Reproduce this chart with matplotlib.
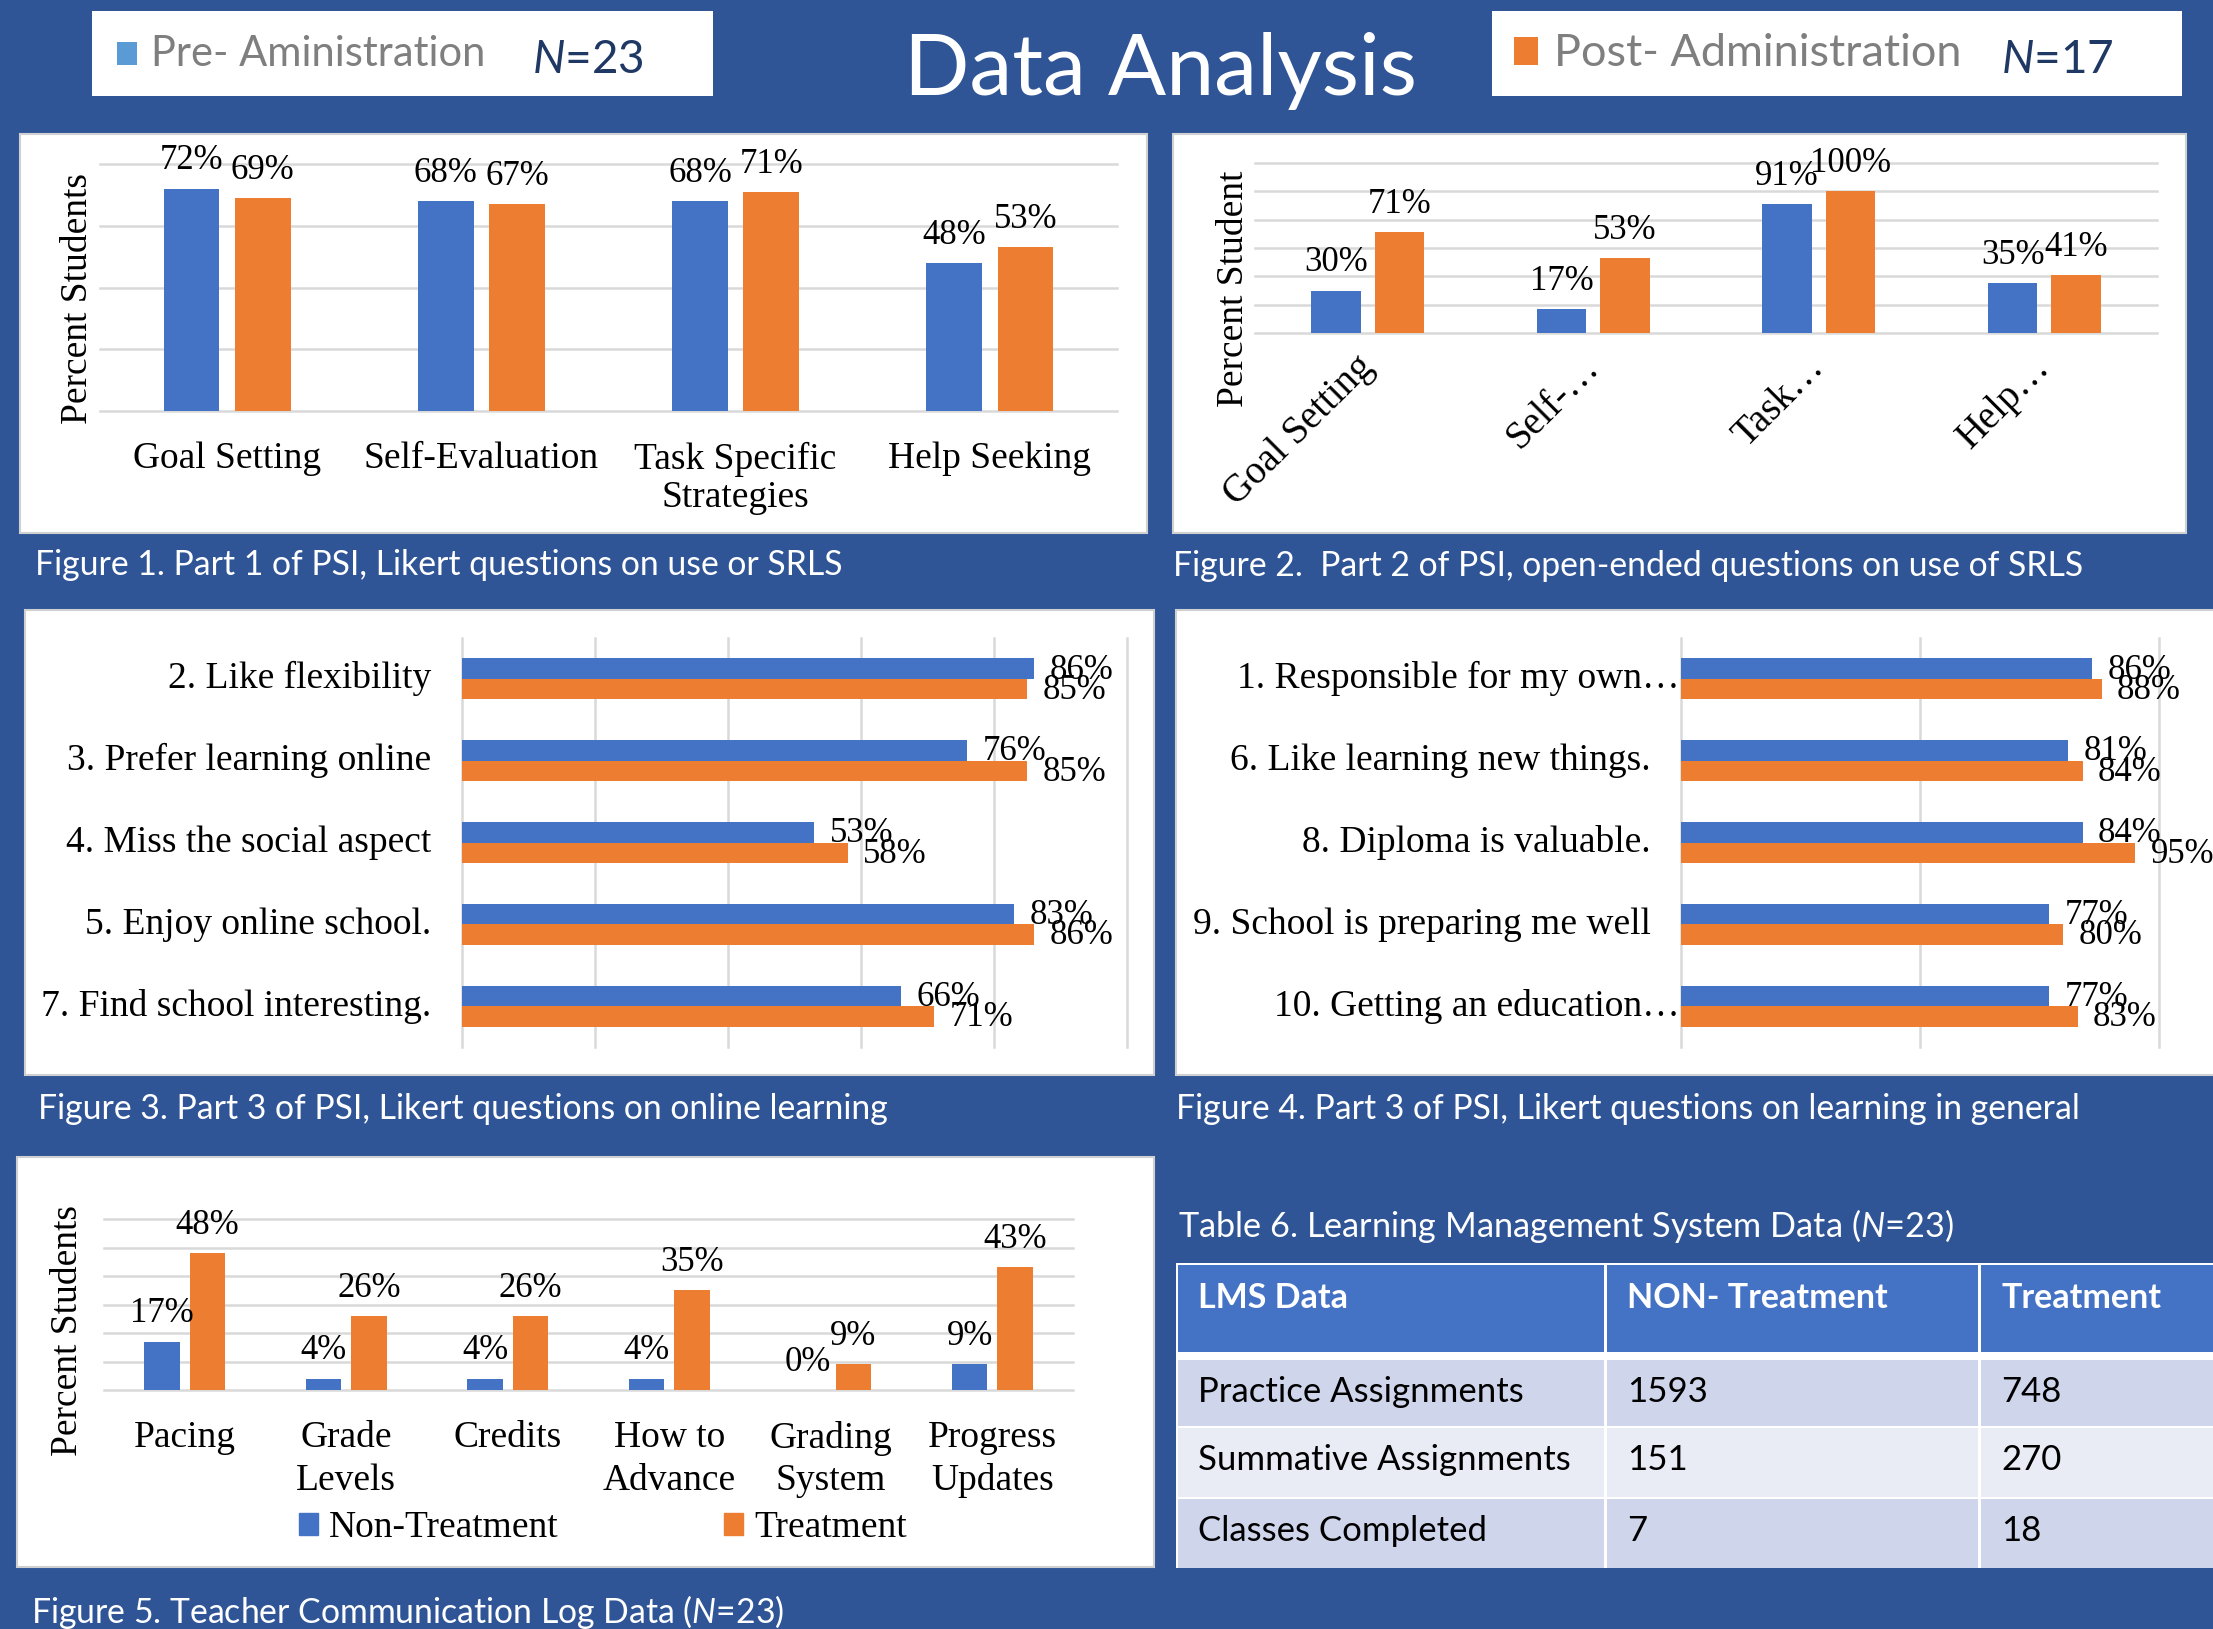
import numpy as np
import matplotlib
matplotlib.use('Agg')
from matplotlib import pyplot as plt
from matplotlib.patches import Rectangle

W, H = 2213, 1629
BG = '#2F5597'
BLUE = '#4472C4'
ORANGE = '#ED7D31'
GRID = '#D9D9D9'
SERIF = 'Liberation Serif'
SANS = 'Lato'

plt.rcParams['mathtext.fontset'] = 'custom'
plt.rcParams['mathtext.rm'] = SANS
plt.rcParams['mathtext.it'] = SANS + ':italic'

# figure 1 - Likert questions on use of SRLS
fig1_cats = ['Goal Setting', 'Self-Evaluation', 'Task Specific\nStrategies', 'Help Seeking']
fig1_pre = [72, 68, 68, 48]
fig1_post = [69, 67, 71, 53]

# figure 2 - open-ended questions on use of SRLS
fig2_cats = ['Goal Setting', 'Self-…', 'Task…', 'Help…']
fig2_pre = [30, 17, 91, 35]
fig2_post = [71, 53, 100, 41]

# figure 3 - online learning
fig3_cats = ['2. Like flexibility', '3. Prefer learning online', '4. Miss the social aspect',
             '5. Enjoy online school.', '7. Find school interesting.']
fig3_pre = [86, 76, 53, 83, 66]
fig3_post = [85, 85, 58, 86, 71]

# figure 4 - learning in general
fig4_cats = ['1. Responsible for my own…', '6. Like learning new things.', '8. Diploma is valuable.',
             '9. School is preparing me well', '10. Getting an education…']
fig4_pre = [86, 81, 84, 77, 77]
fig4_post = [88, 84, 95, 80, 83]

# figure 5 - teacher communication log
fig5_cats = ['Pacing', 'Grade\nLevels', 'Credits', 'How to\nAdvance', 'Grading\nSystem', 'Progress\nUpdates']
fig5_non = [17, 4, 4, 4, 0, 9]
fig5_treat = [48, 26, 26, 35, 9, 43]

# table 6 - LMS data
table_head = ['LMS Data', 'NON- Treatment', 'Treatment']
table_rows = ['Practice Assignments', 'Summative Assignments', 'Classes Completed']
table_non = [1593, 151, 7]
table_treat = [748, 270, 18]

fig = plt.figure(figsize=(W / 100, H / 100), dpi=100, facecolor=BG)
bg = fig.add_axes([0, 0, 1, 1], zorder=-1)
bg.set_xlim(0, W)
bg.set_ylim(H, 0)
bg.axis('off')


def px_axes(x0, y0, x1, y1):
    ax = fig.add_axes([x0 / W, 1 - y1 / H, (x1 - x0) / W, (y1 - y0) / H])
    ax.patch.set_alpha(0)
    for s in ax.spines.values():
        s.set_visible(False)
    return ax


def panel(x0, y0, x1, y1):
    bg.add_patch(Rectangle((x0, y0), x1 - x0, y1 - y0, facecolor='white',
                           edgecolor='#D0D0D0', lw=1.5))


def caption(x, y, s, size=24.3):
    bg.text(x, y, s, color='white', fontfamily=SANS, fontsize=size, va='baseline', ha='left')


def column_chart(ax, cats, a, b, ymax, step):
    x = np.arange(len(cats))
    ax.bar(x - 0.14, a, 0.22, color=BLUE, zorder=3)
    ax.bar(x + 0.14, b, 0.22, color=ORANGE, zorder=3)
    ax.set_xlim(-0.5, len(cats) - 0.5)
    ax.set_ylim(0, ymax)
    ax.set_yticks(np.arange(0, ymax + 1, step))
    ax.yaxis.grid(True, color=GRID, lw=1.8, clip_on=False)
    ax.set_axisbelow(True)
    ax.tick_params(length=0, labelleft=False)
    ax.set_xticks(x)
    for xs, vals in ((x - 0.14, a), (x + 0.14, b)):
        for xi, v in zip(xs, vals):
            ax.annotate('{}%'.format(v), (xi, v), xytext=(0, 20), textcoords='offset points',
                        ha='center', va='center', fontfamily=SERIF, fontsize=25)
    return x


def hbar_chart(ax, cats, a, b, ticks):
    y = np.arange(len(cats))
    ax.barh(y - 0.125, a, 0.25, color=BLUE, zorder=3)
    ax.barh(y + 0.125, b, 0.25, color=ORANGE, zorder=3)
    ax.set_ylim(len(cats) - 0.5, -0.5)
    ax.set_xlim(0, 100)
    ax.set_xticks(ticks)
    ax.xaxis.grid(True, color=GRID, lw=1.8, clip_on=False)
    ax.set_axisbelow(True)
    ax.tick_params(length=0, labelbottom=False, labelleft=False)
    for ys, vals in ((y - 0.125, a), (y + 0.125, b)):
        for yi, v in zip(ys, vals):
            ax.annotate('{}%'.format(v), (v, yi), xytext=(11, -1), textcoords='offset points',
                        ha='left', va='center', fontfamily=SERIF, fontsize=25, annotation_clip=False)
    for yi, lab in zip(y, cats):
        pad = 1 if lab.endswith('…') else 22
        ax.annotate(lab, (0, yi), xycoords=('axes fraction', 'data'), xytext=(-pad, 0),
                    textcoords='offset points', ha='right', va='center',
                    fontfamily=SERIF, fontsize=27)


# ---- header ----
bg.add_patch(Rectangle((92, 11), 621, 85, facecolor='white', lw=0))
bg.add_patch(Rectangle((1492, 11), 690, 85, facecolor='white', lw=0))
bg.add_patch(Rectangle((117, 42), 20, 23, facecolor='#5B9BD5', lw=0))
bg.add_patch(Rectangle((1514, 37), 24, 28, facecolor=ORANGE, lw=0))
bg.text(151, 66, 'Pre- Aministration', color='#7F7F7F', fontfamily=SANS, fontsize=30, va='baseline')
bg.text(532, 73, '$N$=23', color='#1F3864', fontfamily=SANS, fontsize=33, va='baseline')
bg.text(1554, 66, 'Post- Administration', color='#7F7F7F', fontfamily=SANS, fontsize=32.4, va='baseline')
bg.text(2001, 73, '$N$=17', color='#1F3864', fontfamily=SANS, fontsize=33, va='baseline')
bg.text(1161, 95, 'Data Analysis', color='white', fontfamily=SANS, fontsize=62, va='baseline', ha='center')

# ---- panels ----
panel(20, 134, 1147, 533)
panel(1173, 134, 2186, 533)
panel(25, 610, 1154, 1075)
panel(1176, 610, 2220, 1075)
panel(17, 1157, 1154, 1567)

# ---- figure 1 ----
ax1 = px_axes(100, 164, 1117, 411)
x = column_chart(ax1, fig1_cats, fig1_pre, fig1_post, 80, 20)
ax1.set_xticklabels(fig1_cats, fontfamily=SERIF, fontsize=27, linespacing=1.15)
ax1.tick_params(axis='x', pad=22)
bg.text(78, 298, 'Percent Students', rotation=90, ha='center', va='center',
        fontfamily=SERIF, fontsize=27)
caption(35, 575, 'Figure 1. Part 1 of PSI, Likert questions on use or SRLS')

# ---- figure 2 ----
ax2 = px_axes(1255, 163, 2157, 333)
x = column_chart(ax2, fig2_cats, fig2_pre, fig2_post, 120, 20)
ax2.set_xticklabels(fig2_cats, fontfamily=SERIF, fontsize=28, rotation=45,
                    ha='right', va='center', rotation_mode='anchor')
ax2.tick_params(axis='x', pad=21)
bg.text(1234, 289, 'Percent Student', rotation=90, ha='center', va='center',
        fontfamily=SERIF, fontsize=27)
caption(1173, 576, 'Figure 2.  Part 2 of PSI, open-ended questions on use of SRLS')

# ---- figure 3 ----
ax3 = px_axes(462, 638, 1127, 1047)
hbar_chart(ax3, fig3_cats, fig3_pre, fig3_post, np.arange(0, 101, 20))
caption(38, 1119, 'Figure 3. Part 3 of PSI, Likert questions on online learning')

# ---- figure 4 ----
ax4 = px_axes(1681, 638, 2159, 1047)
hbar_chart(ax4, fig4_cats, fig4_pre, fig4_post, [0, 50, 100])
caption(1176, 1119, 'Figure 4. Part 3 of PSI, Likert questions on learning in general')

# ---- figure 5 ----
ax5 = px_axes(104, 1219, 1073, 1390)
x = column_chart(ax5, fig5_cats, fig5_non, fig5_treat, 60, 10)
ax5.set_xticklabels(fig5_cats, fontfamily=SERIF, fontsize=27, linespacing=1.3)
ax5.tick_params(axis='x', pad=22)
bg.text(68, 1330, 'Percent Students', rotation=90, ha='center', va='center',
        fontfamily=SERIF, fontsize=27)
h1 = Rectangle((0, 0), 1, 1, color=BLUE)
h2 = Rectangle((0, 0), 1, 1, color=ORANGE)
fig.legend([h1, h2], ['Non-Treatment', 'Treatment'], loc='center',
           bbox_to_anchor=(603 / W, 1 - 1528 / H), ncol=2, frameon=False,
           prop={'family': SERIF, 'size': 27}, handlelength=0.5, handleheight=0.55,
           handletextpad=0.3, columnspacing=4.4)
caption(31, 1623, 'Figure 5. Teacher Communication Log Data ($N$=23)')

# ---- table 6 ----
caption(1178, 1237, 'Table 6. Learning Management System Data ($N$=23)', size=24.7)
col_x = [1176, 1605, 1979, 2230]
bg.add_patch(Rectangle((col_x[0], 1263), col_x[-1] - col_x[0], 1568 - 1263, facecolor='white', lw=0))
row_y = [(1360, 1426), (1428, 1497), (1499, 1568)]
row_col = ['#CFD5EA', '#E9EBF5', '#CFD5EA']
for j in range(3):
    bg.add_patch(Rectangle((col_x[j] + 1.5, 1265), col_x[j + 1] - col_x[j] - 3, 87,
                           facecolor=BLUE, lw=0))
    bg.text(col_x[j] + 22, 1308, table_head[j], color='white', fontfamily=SANS,
            fontsize=24.5, fontweight='bold', va='baseline')
for i, name in enumerate(table_rows):
    y0, y1 = row_y[i]
    vals = [name, str(table_non[i]), str(table_treat[i])]
    for j in range(3):
        bg.add_patch(Rectangle((col_x[j] + 1.5, y0), col_x[j + 1] - col_x[j] - 3, y1 - y0,
                               facecolor=row_col[i], lw=0))
        bg.text(col_x[j] + 22, y0 + 42, vals[j], color='black', fontfamily=SANS,
                fontsize=25, va='baseline')

fig.savefig('out.png', dpi=100, facecolor=BG)
